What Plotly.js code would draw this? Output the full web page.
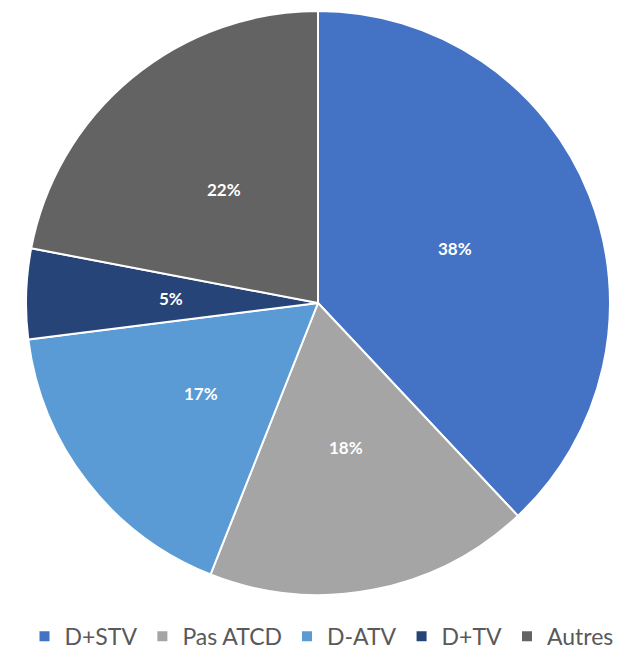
<!DOCTYPE html>
<html><head><meta charset="utf-8">
<script src="https://cdn.plot.ly/plotly-3.0.1.min.js"></script>
<style>html,body{margin:0;padding:0;background:#fff;}#chart{width:643px;height:651px;}</style>
</head><body><div id="chart"></div>
<script>
const labels = ["D+STV", "Pas ATCD", "D-ATV", "D+TV", "Autres"];
const values = [38, 18, 17, 5, 22];
const colors = ["#4472C4", "#A5A5A5", "#5B9BD5", "#264478", "#636363"];

const W = 643, H = 651;
const M = {l: 0, r: 0, t: 11, b: 56};
const pw = W - M.l - M.r, ph = H - M.t - M.b;
const dom = {x: [26/643, 610/643], y: [0, 1]};

// label positions derived from the data (mid-angle of each slice, half radius)
const total = values.reduce((a, b) => a + b, 0);
const cxp = (dom.x[0] + dom.x[1]) / 2, cyp = (dom.y[0] + dom.y[1]) / 2;
const rPx = Math.min((dom.x[1] - dom.x[0]) * pw, (dom.y[1] - dom.y[0]) * ph) / 2;
const k = 0.505;
let cum = 0;
const annotations = values.map((v) => {
  const mid = (cum + v / 2) / total * 2 * Math.PI;
  cum += v;
  return {
    xref: "paper", yref: "paper",
    x: cxp + k * rPx * Math.sin(mid) / pw,
    y: cyp + k * rPx * Math.cos(mid) / ph,
    text: "<b>" + Math.round(v / total * 100) + "%</b>",
    showarrow: false, xanchor: "center", yanchor: "middle",
    font: {family: "Lato, 'Open Sans', sans-serif", size: 17, color: "#ffffff"}
  };
});

Plotly.newPlot("chart", [{
  type: "pie",
  labels: labels,
  values: values,
  sort: false,
  direction: "clockwise",
  rotation: 0,
  marker: {colors: colors, line: {color: "#ffffff", width: 2}},
  textinfo: "none",
  hoverinfo: "label+percent",
  domain: dom
}], {
  width: W, height: H,
  margin: {l: M.l, r: M.r, t: M.t, b: M.b, autoexpand: false},
  paper_bgcolor: "#ffffff",
  showlegend: true,
  annotations: annotations,
  legend: {orientation: "h", x: 0.5, xanchor: "center", y: -0.034, yanchor: "top",
           font: {family: "Lato, 'Open Sans', sans-serif", size: 23, color: "#595959"},
           traceorder: "normal", itemwidth: 30}
}, {displayModeBar: false, staticPlot: true});
</script></body></html>
